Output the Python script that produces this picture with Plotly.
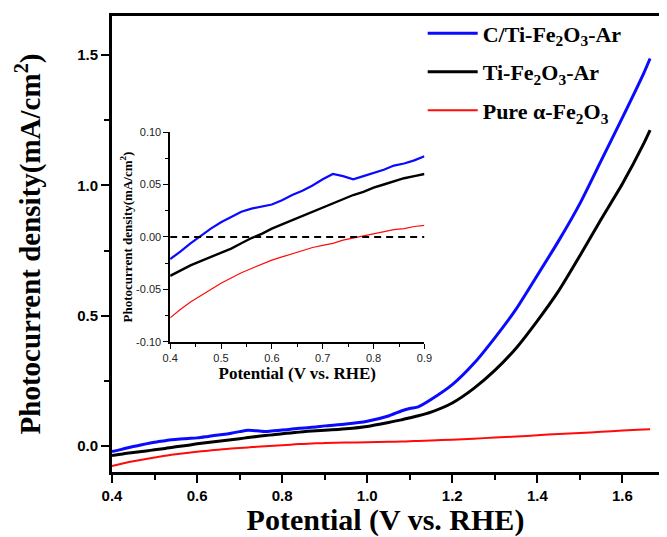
import plotly.graph_objects as go

# ---- data ----
potential = [0.40, 0.42, 0.44, 0.46, 0.48, 0.50, 0.52, 0.54, 0.56, 0.58,
             0.60, 0.62, 0.64, 0.66, 0.68, 0.70, 0.72, 0.74, 0.76, 0.78,
             0.80, 0.82, 0.84, 0.86, 0.88, 0.90,
             0.95, 1.00, 1.05, 1.08, 1.10, 1.12, 1.15, 1.20, 1.25, 1.30,
             1.35, 1.40, 1.45, 1.50, 1.55, 1.60, 1.65, 1.665]

c_ti_ar = [-0.021, -0.014, -0.006, 0.001, 0.008, 0.014, 0.019, 0.024, 0.027, 0.029,
           0.031, 0.035, 0.040, 0.044, 0.049, 0.055, 0.060, 0.058, 0.055, 0.058,
           0.061, 0.064, 0.068, 0.070, 0.073, 0.077,
           0.084, 0.095, 0.115, 0.134, 0.144, 0.150, 0.178, 0.235, 0.315, 0.415,
           0.525, 0.655, 0.787, 0.930, 1.095, 1.260, 1.430, 1.487]

ti_ar = [-0.037, -0.032, -0.027, -0.023, -0.019, -0.015, -0.011, -0.006, -0.001, 0.003,
         0.008, 0.012, 0.016, 0.020, 0.024, 0.028, 0.032, 0.036, 0.040, 0.043,
         0.047, 0.050, 0.053, 0.056, 0.058, 0.060,
         0.066, 0.075, 0.090, 0.100, 0.108, 0.116, 0.130, 0.165, 0.220, 0.290,
         0.375, 0.480, 0.595, 0.730, 0.870, 1.006, 1.160, 1.212]

pure = [-0.077, -0.069, -0.062, -0.056, -0.050, -0.044, -0.039, -0.034, -0.030, -0.026,
        -0.022, -0.019, -0.016, -0.013, -0.010, -0.008, -0.006, -0.003, -0.001, 0.001,
        0.003, 0.005, 0.007, 0.008, 0.010, 0.011,
        0.013, 0.014, 0.016, 0.017, 0.018, 0.019, 0.021, 0.024, 0.028, 0.032,
        0.036, 0.041, 0.046, 0.050, 0.054, 0.059, 0.063, 0.064]

series_names = ["C/Ti-Fe<sub>2</sub>O<sub>3</sub>-Ar",
                "Ti-Fe<sub>2</sub>O<sub>3</sub>-Ar",
                "Pure α-Fe<sub>2</sub>O<sub>3</sub>"]
series_values = [c_ti_ar, ti_ar, pure]
series_colors = ["#0a0aff", "#000000", "#ff0a0a"]
main_widths = [3, 3, 2]
inset_widths = [2.2, 2.4, 1.2]

inset_xmax = 0.9
main_yticks = [0.0, 0.5, 1.0, 1.5]
main_xticks = [0.4, 0.6, 0.8, 1.0, 1.2, 1.4, 1.6]
inset_yticks = [-0.10, -0.05, 0.00, 0.05, 0.10]
inset_yticklabels = ["-0.10", "-0.05", "0.00", "0.05", "0.10"]
inset_xticks = [0.4, 0.5, 0.6, 0.7, 0.8, 0.9]

serif = "Liberation Serif"
sans = "Liberation Sans"

fig = go.Figure()

# main curves (draw red first, blue last)
for i in [2, 1, 0]:
    fig.add_trace(go.Scatter(
        x=potential, y=series_values[i], mode="lines", name=series_names[i],
        line=dict(color=series_colors[i], width=main_widths[i], shape="spline", smoothing=0.6),
        xaxis="x", yaxis="y", legendrank=i + 1, legendgroup=f"g{i}",
        showlegend=True))

# inset curves
for i in [2, 1, 0]:
    xs = [p for p in potential if p <= inset_xmax + 1e-9]
    ys = series_values[i][:len(xs)]
    fig.add_trace(go.Scatter(
        x=xs, y=ys, mode="lines", showlegend=False,
        line=dict(color=series_colors[i], width=inset_widths[i]),
        xaxis="x2", yaxis="y2"))

# zero reference line in the inset
fig.add_trace(go.Scatter(
    x=[0.4, inset_xmax], y=[0, 0], mode="lines", showlegend=False,
    line=dict(color="black", width=2, dash="7px,5px"),
    xaxis="x2", yaxis="y2"))

fig.update_layout(
    width=667, height=537,
    margin=dict(l=112, r=0, t=16, b=65),
    paper_bgcolor="white", plot_bgcolor="white",
    showlegend=True,
    legend=dict(x=0.568, y=1.008, xanchor="left", yanchor="top",
                bgcolor="rgba(0,0,0,0)", borderwidth=0,
                font=dict(family=serif, size=22, color="black", weight="bold"),
                tracegroupgap=7, itemwidth=50),
    xaxis=dict(range=[0.4, 1.686], tickvals=main_xticks, tickformat=".1f",
               showgrid=False, zeroline=False,
               showline=True, linecolor="black", linewidth=3, mirror=True,
               ticks="outside", ticklen=8, tickwidth=2, tickcolor="black",
               minor=dict(dtick=0.1, tick0=0.4, ticks="outside", ticklen=5,
                          tickwidth=2, tickcolor="black", showgrid=False),
               tickfont=dict(family=sans, size=15, color="black", weight="bold"),
               title=dict(text="Potential (V vs. RHE)", standoff=7,
                          font=dict(family=serif, size=30, color="black", weight="bold"))),
    yaxis=dict(range=[-0.1, 1.65], tickvals=main_yticks, tickformat=".1f",
               showgrid=False, zeroline=False,
               showline=True, linecolor="black", linewidth=3, mirror=False,
               ticks="outside", ticklen=8, tickwidth=2, tickcolor="black",
               minor=dict(dtick=0.25, tick0=0, ticks="outside", ticklen=5,
                          tickwidth=2, tickcolor="black", showgrid=False),
               tickfont=dict(family=sans, size=15, color="black", weight="bold"),
               title=dict(text="Photocurrent density(mA/cm<sup>2</sup>)", standoff=28,
                          font=dict(family=serif, size=29, color="black", weight="bold"))),
    xaxis2=dict(domain=[0.1063, 0.5712], anchor="y2", range=[0.4, 0.9],
                tickvals=inset_xticks, tickformat=".1f",
                showgrid=False, zeroline=False,
                showline=True, linecolor="black", linewidth=1.5, mirror=False,
                ticks="outside", ticklen=5, tickwidth=1.2, tickcolor="black",
                minor=dict(dtick=0.05, tick0=0.4, ticks="outside", ticklen=3,
                           tickwidth=1.2, tickcolor="black", showgrid=False),
                tickfont=dict(family=sans, size=11, color="#222222"),
                title=dict(text="Potential (V vs. RHE)", standoff=4,
                           font=dict(family=serif, size=17, color="black", weight="bold"))),
    yaxis2=dict(domain=[0.2851, 0.7456], anchor="x2", range=[-0.1, 0.1],
                tickvals=inset_yticks, ticktext=inset_yticklabels,
                showgrid=False, zeroline=False,
                showline=True, linecolor="black", linewidth=1.5, mirror=False,
                ticks="outside", ticklen=5, tickwidth=1.2, tickcolor="black",
                minor=dict(dtick=0.025, tick0=0, ticks="outside", ticklen=3,
                           tickwidth=1.2, tickcolor="black", showgrid=False),
                tickfont=dict(family=sans, size=11, color="#222222"),
                title=dict(text="Photocurrent density(mA/cm<sup>2</sup>)", standoff=1,
                           font=dict(family=serif, size=13, color="black", weight="bold"))),
)

fig.write_html("out.html")
